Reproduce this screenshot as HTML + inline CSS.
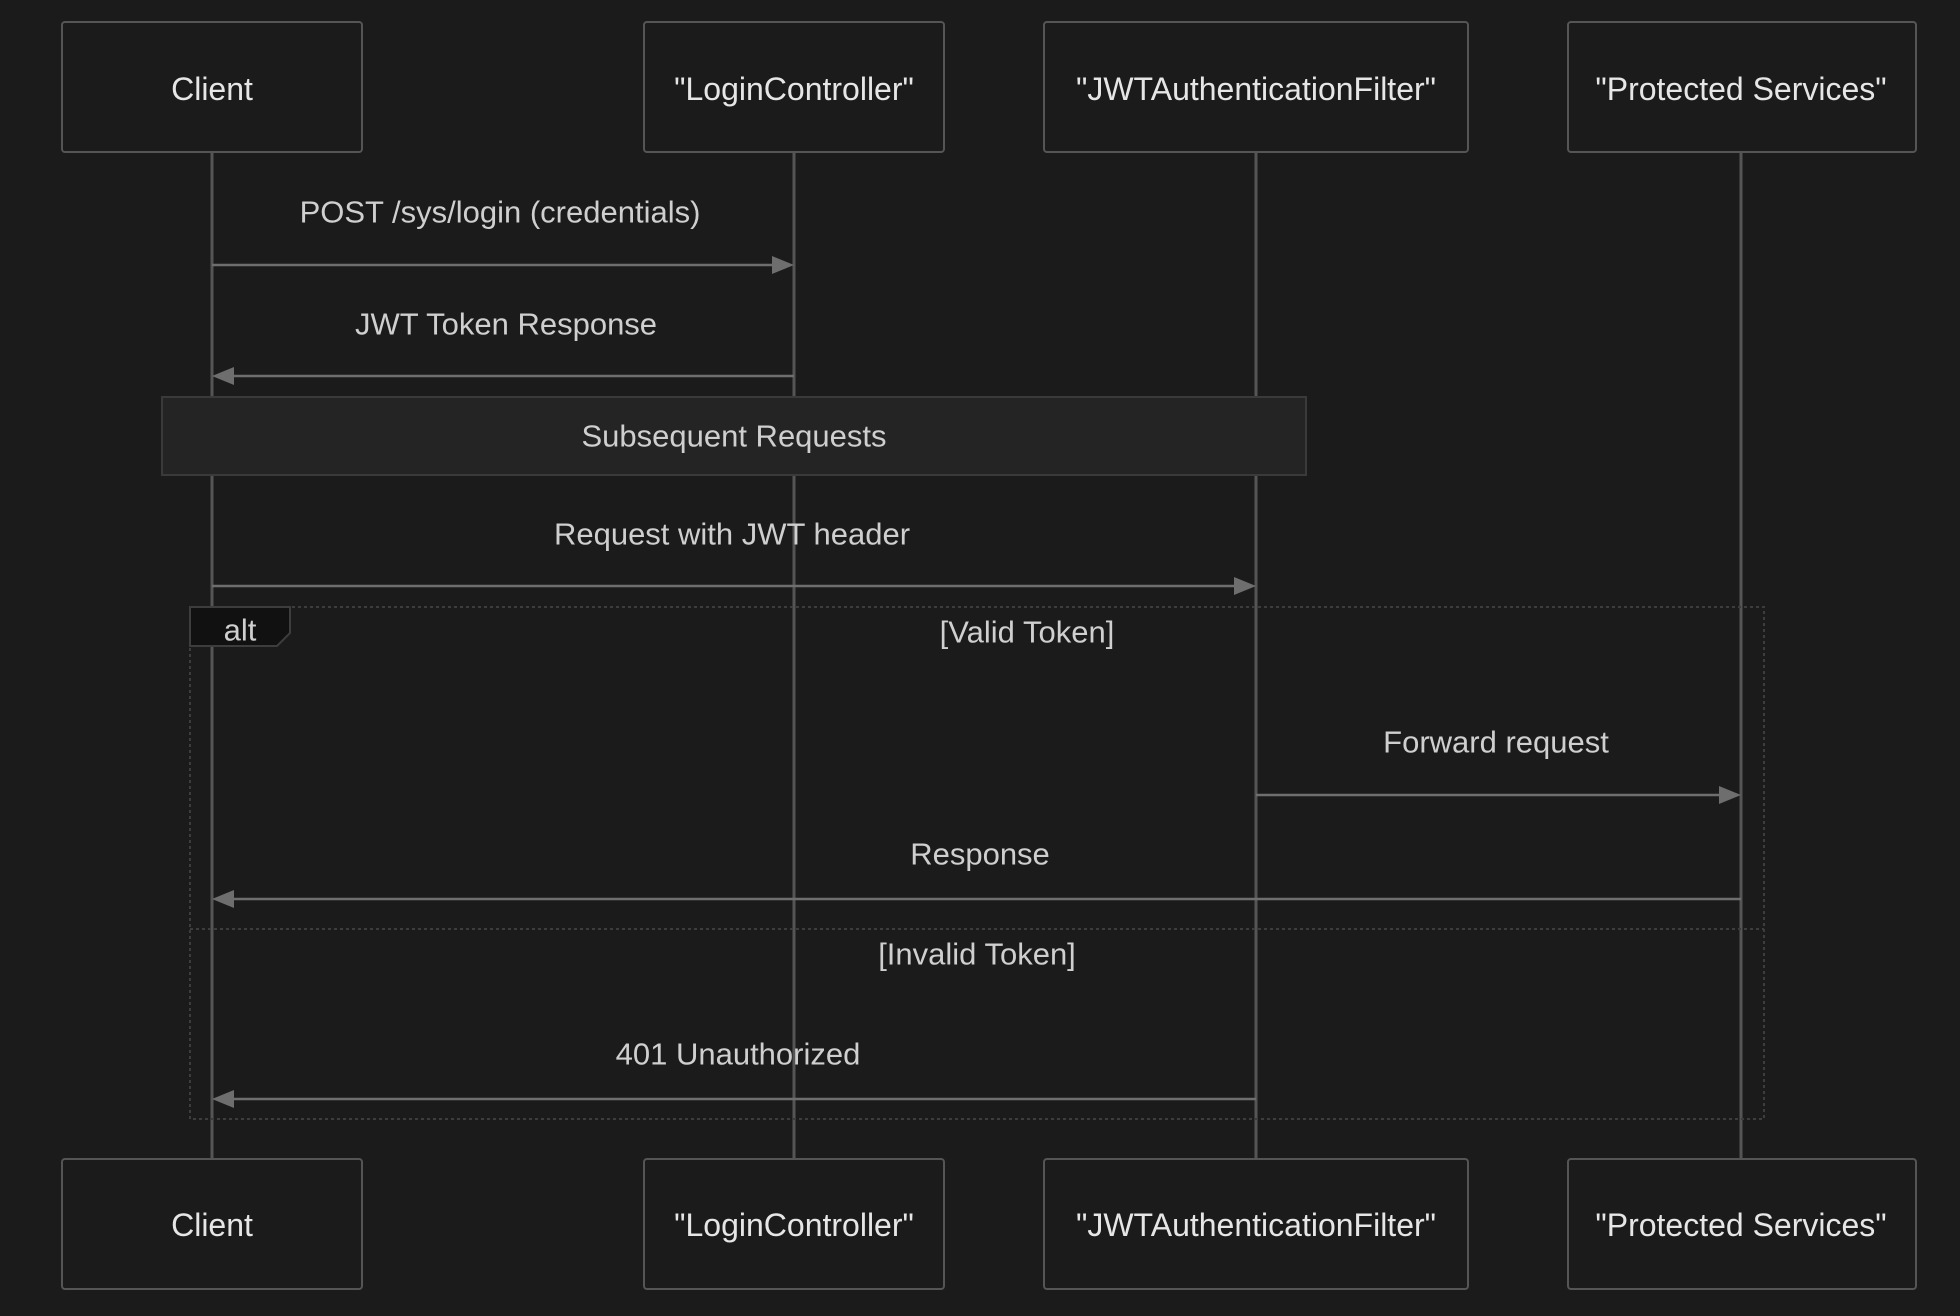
<!DOCTYPE html>
<html><head><meta charset="utf-8"><style>
html,body{margin:0;padding:0;background:#1b1b1b;}
svg{display:block}
text{font-family:"Liberation Sans",sans-serif;}
</style></head><body>
<svg width="1960" height="1316" viewBox="0 0 1960 1316" xmlns="http://www.w3.org/2000/svg">
<rect width="1960" height="1316" fill="#1b1b1b"/>
<g stroke="#555" stroke-width="3">
<line x1="212" y1="152" x2="212" y2="1159"/>
<line x1="794" y1="152" x2="794" y2="1159"/>
<line x1="1256" y1="152" x2="1256" y2="1159"/>
<line x1="1741" y1="152" x2="1741" y2="1159"/>
</g>
<g fill="#1b1b1b" stroke="#555" stroke-width="2">
<rect x="62" y="22" width="300" height="130" rx="3"/>
<rect x="644" y="22" width="300" height="130" rx="3"/>
<rect x="1044" y="22" width="424" height="130" rx="3"/>
<rect x="1568" y="22" width="348" height="130" rx="3"/>
<rect x="62" y="1159" width="300" height="130" rx="3"/>
<rect x="644" y="1159" width="300" height="130" rx="3"/>
<rect x="1044" y="1159" width="424" height="130" rx="3"/>
<rect x="1568" y="1159" width="348" height="130" rx="3"/>
</g>
<g fill="#e6e6e6" font-size="32" text-anchor="middle" dominant-baseline="central">
<text x="212" y="89">Client</text>
<text x="794" y="89">"LoginController"</text>
<text x="1256" y="89">"JWTAuthenticationFilter"</text>
<text x="1741" y="89">"Protected Services"</text>
<text x="212" y="1225">Client</text>
<text x="794" y="1225">"LoginController"</text>
<text x="1256" y="1225">"JWTAuthenticationFilter"</text>
<text x="1741" y="1225">"Protected Services"</text>
</g>
<rect x="162" y="397" width="1144" height="78" fill="#242424" stroke="#3a3a3a" stroke-width="2"/>
<rect x="190" y="607" width="1574" height="512" fill="none" stroke="#3d3d3d" stroke-width="2" stroke-dasharray="3,3"/>
<line x1="190" y1="929" x2="1764" y2="929" stroke="#3d3d3d" stroke-width="2" stroke-dasharray="3,3"/>
<polygon points="190,607 290,607 290,633 277,646 190,646" fill="#111" stroke="#3d3d3d" stroke-width="2"/>
<g stroke="#6e6e6e" stroke-width="2.5">
<line x1="212" y1="265" x2="778" y2="265"/>
<line x1="232" y1="376" x2="794" y2="376"/>
<line x1="212" y1="586" x2="1240" y2="586"/>
<line x1="1256" y1="795" x2="1725" y2="795"/>
<line x1="232" y1="899" x2="1741" y2="899"/>
<line x1="232" y1="1099" x2="1256" y2="1099"/>
</g>
<g fill="#6e6e6e">
<polygon points="794,265 772,256 772,274"/>
<polygon points="212,376 234,367 234,385"/>
<polygon points="1256,586 1234,577 1234,595"/>
<polygon points="1741,795 1719,786 1719,804"/>
<polygon points="212,899 234,890 234,908"/>
<polygon points="212,1099 234,1090 234,1108"/>
</g>
<g fill="#cfcfcf" font-size="31" text-anchor="middle" dominant-baseline="central">
<text x="500" y="212">POST /sys/login (credentials)</text>
<text x="506" y="324">JWT Token Response</text>
<text x="734" y="436">Subsequent Requests</text>
<text x="732" y="534">Request with JWT header</text>
<text x="240" y="630">alt</text>
<text x="1027" y="632">[Valid Token]</text>
<text x="1496" y="742">Forward request</text>
<text x="980" y="854">Response</text>
<text x="977" y="954">[Invalid Token]</text>
<text x="738" y="1054">401 Unauthorized</text>
</g>
</svg>
</body></html>
